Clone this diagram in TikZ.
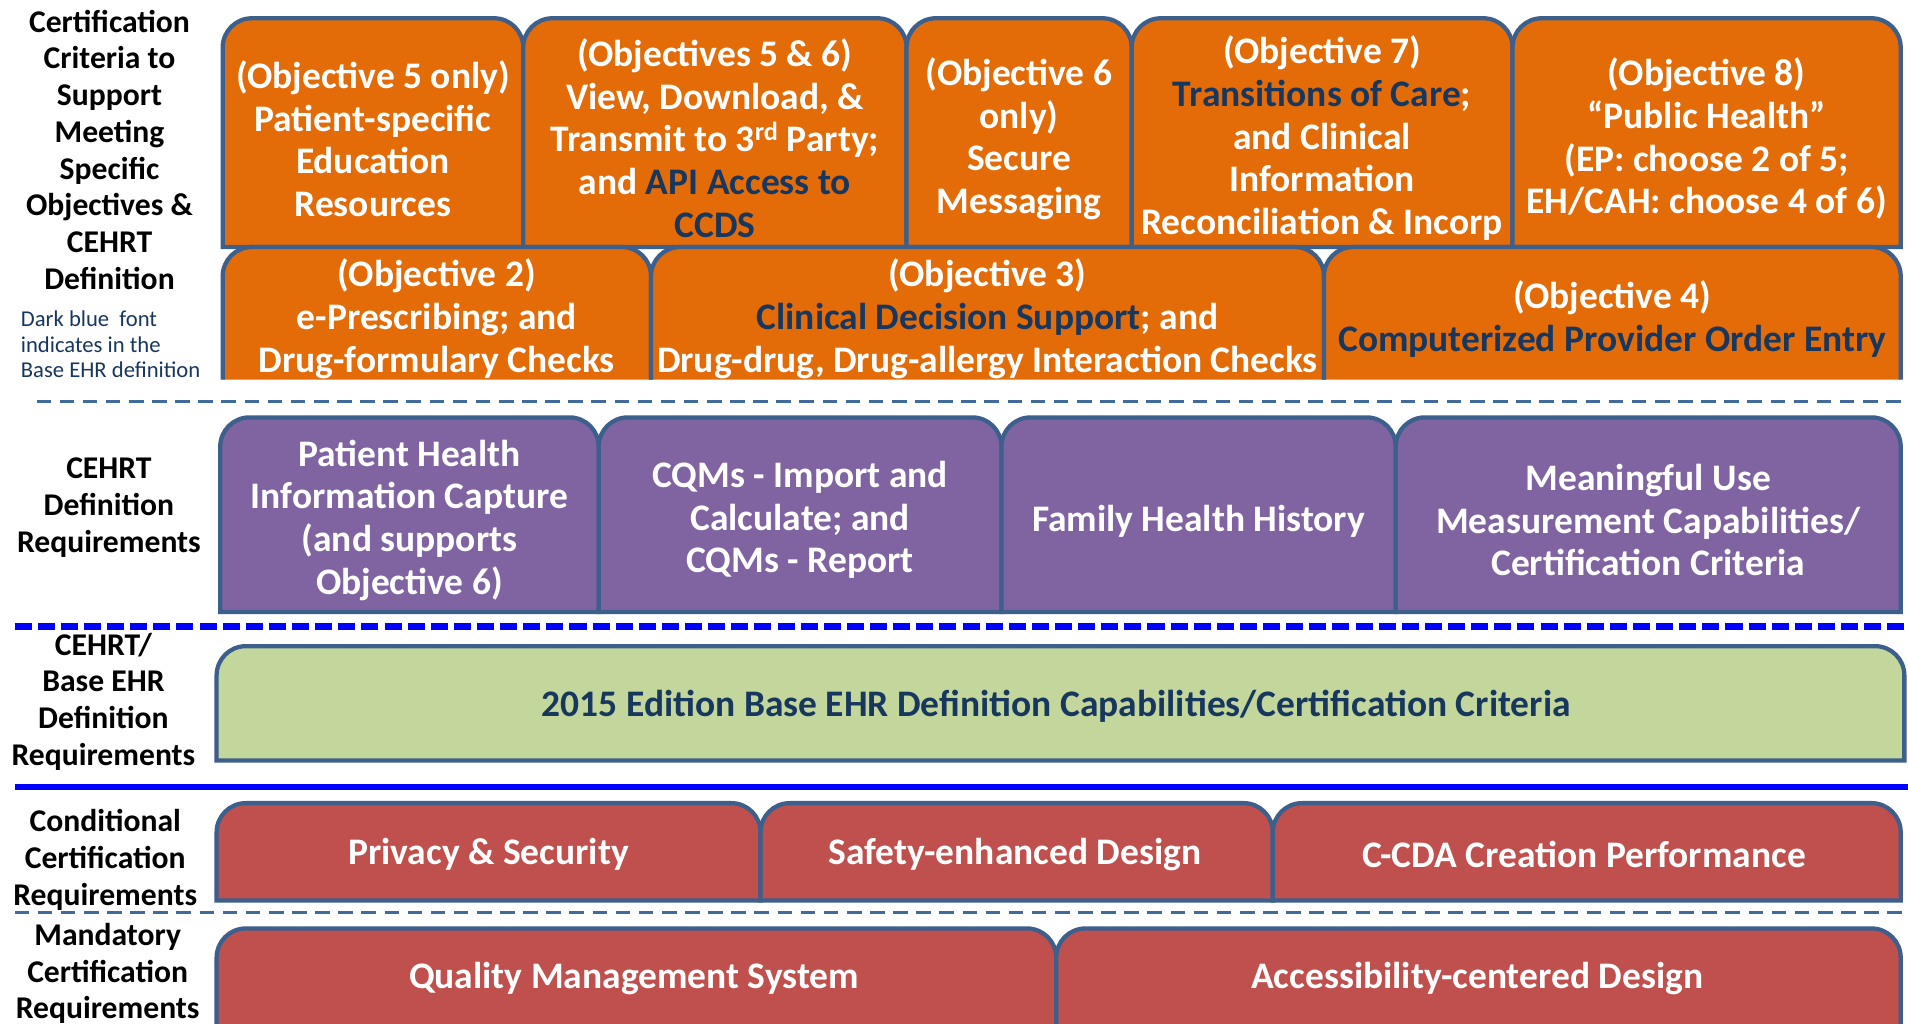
\documentclass[tikz,border=0pt]{standalone}
\usepackage{fontspec}
\setmainfont{Carlito}
\definecolor{orng}{HTML}{E36C09}
\definecolor{purp}{HTML}{8064A2}
\definecolor{grn}{HTML}{C3D69B}
\definecolor{redb}{HTML}{C0504D}
\definecolor{bord}{HTML}{3C5F8C}
\definecolor{dkblue}{HTML}{17375E}
\definecolor{dashblue}{HTML}{3F6C9B}
\definecolor{pureblue}{HTML}{0000FF}
\newcommand\db[1]{\textcolor{dkblue}{#1}}
\newcommand\closedcell[5]{%
  \fill[#5] (#1,#4) [rounded corners=24pt] -- (#1,#2) -- (#3,#2) [sharp corners] -- (#3,#4) -- cycle;
  \draw[bord, line width=3.5pt] (#1,#4) [rounded corners=24pt] -- (#1,#2) -- (#3,#2) [sharp corners] -- (#3,#4) -- cycle;}
\newcommand\opencell[5]{%
  \fill[#5] (#1,#4) [rounded corners=24pt] -- (#1,#2) -- (#3,#2) [sharp corners] -- (#3,#4) -- cycle;
  \draw[bord, line width=3.5pt] (#1,#4) [rounded corners=24pt] -- (#1,#2) -- (#3,#2) [sharp corners] -- (#3,#4);}
\tikzset{
  celltext/.style={align=center, text=white, inner sep=0pt, font=\bfseries\fontsize{30.8}{35}\selectfont},
  lbl/.style={align=center, text=black, inner sep=0pt, font=\bfseries\fontsize{26}{30.2}\selectfont},
  note/.style={align=left, text=dkblue, inner sep=0pt, anchor=west, font=\fontsize{18.6}{21}\selectfont},
  thindash/.style={dashblue, line width=3pt, dash pattern=on 12pt off 7pt},
  thickdash/.style={pureblue, line width=5.5pt, dash pattern=on 14pt off 5pt},
  solidsep/.style={pureblue, line width=5pt}
}
\begin{document}
\begin{tikzpicture}[x=1pt,y=-1pt]
\useasboundingbox[fill=white] (0,0) rectangle (1568,841);
\clip (0,0) rectangle (1568,841);

% ---- orange row 1
\closedcell{183}{15}{430}{203}{orng}
\closedcell{430}{15}{745}{203}{orng}
\closedcell{745}{15}{930}{203}{orng}
\closedcell{930}{15}{1243}{203}{orng}
\closedcell{1243}{15}{1562}{203}{orng}
% ---- orange row 2 (cut)
\opencell{183}{203}{535}{312}{orng}
\opencell{535}{203}{1088}{312}{orng}
\opencell{1088}{203}{1562}{312}{orng}
% ---- purple row
\closedcell{181}{343}{492}{503}{purp}
\closedcell{492}{343}{823}{503}{purp}
\closedcell{823}{343}{1147}{503}{purp}
\closedcell{1147}{343}{1562}{503}{purp}
% ---- green
\closedcell{178}{531}{1565}{625}{grn}
% ---- red row 1
\closedcell{178}{660}{625}{740}{redb}
\closedcell{625}{660}{1046}{740}{redb}
\closedcell{1046}{660}{1562}{740}{redb}
% ---- red row 2
\closedcell{178}{763}{868}{845}{redb}
\closedcell{868}{763}{1562}{845}{redb}

% ---- separators
\coordinate (s1a) at (30,330);  \coordinate (s1b) at (1568,330);
\coordinate (s2a) at (12,515);  \coordinate (s2b) at (1568,515);
\coordinate (s3a) at (12,647);  \coordinate (s3b) at (1568,647);
\coordinate (s4a) at (12,750);  \coordinate (s4b) at (1568,750);
\draw[thindash] (s1a) -- (s1b);
\draw[thickdash] (s2a) -- (s2b);
\draw[solidsep] (s3a) -- (s3b);
\draw[thindash] (s4a) -- (s4b);

% ---- left labels
\node[lbl] (l1) at (90,123) {Certification\\Criteria to\\Support\\Meeting\\Specific\\Objectives \&\\CEHRT\\Definition};
\node[note] (l1n) at (17,283) {Dark blue\ \ font\\indicates in\ the\\Base EHR definition};
\node[lbl] (l2) at (89.5,417) {CEHRT\\Definition\\Requirements};
\node[lbl] (l3) at (85,576.5) {CEHRT/\\Base EHR\\Definition\\Requirements};
\node[lbl] (l4) at (86.5,706.5) {Conditional\\Certification\\Requirements};
\node[lbl] (l5) at (88.5,800) {Mandatory\\Certification\\Requirements};

% ---- orange texts
\node[celltext] (o1) at (306.5,114) {(Objective 5 only)\\Patient-specific\\Education\\Resources};
\node[celltext] (o2) at (587.5,113.5) {(Objectives 5 \& 6)\\View, Download, \&\\Transmit to 3\textsuperscript{rd} Party;\\and \db{API Access to}\\\db{CCDS}};
\node[celltext] (o3) at (837.5,114) {(Objective 6\\only)\\Secure\\Messaging};
\node[celltext] (o4) at (1086.5,113.5) {(Objective 7)\\\db{Transitions of Care};\\and Clinical\\Information\\Reconciliation \& Incorp};
\node[celltext] (o5) at (1402.5,114) {(Objective 8)\\“Public Health”\\(EP: choose 2 of 5;\\EH/CAH: choose 4 of 6)};
\node[celltext] (o6) at (359,262) {(Objective 2)\\e-Prescribing; and\\Drug-formulary Checks};
\node[celltext] (o7) at (811.5,262) {(Objective 3)\\\db{Clinical Decision Support}; and\\Drug-drug, Drug-allergy Interaction Checks};
\node[celltext] (o8) at (1325,262) {(Objective 4)\\\db{Computerized Provider Order Entry}};

% ---- purple texts
\node[celltext] (p1) at (336.5,427.5) {Patient Health\\Information Capture\\(and supports\\Objective 6)};
\node[celltext] (p2) at (657.5,427.5) {CQMs - Import and\\Calculate; and\\CQMs - Report};
\node[celltext] (p3) at (985,428) {Family Health History};
\node[celltext] (p4) at (1354.5,427.5) {Meaningful Use\\Measurement Capabilities/\\Certification Criteria};

% ---- green text
\node[celltext, text=dkblue] (g1) at (868,580) {2015\ Edition Base EHR Definition Capabilities/Certification Criteria};

% ---- red texts
\node[celltext] (r1) at (401.5,702) {Privacy \& Security};
\node[celltext] (r2) at (834,702) {Safety-enhanced Design};
\node[celltext] (r3) at (1302,702) {C-CDA Creation Performance};
\node[celltext] (r4) at (521,804) {Quality Management System};
\node[celltext] (r5) at (1214,804) {Accessibility-centered Design};
\end{tikzpicture}
\end{document}
